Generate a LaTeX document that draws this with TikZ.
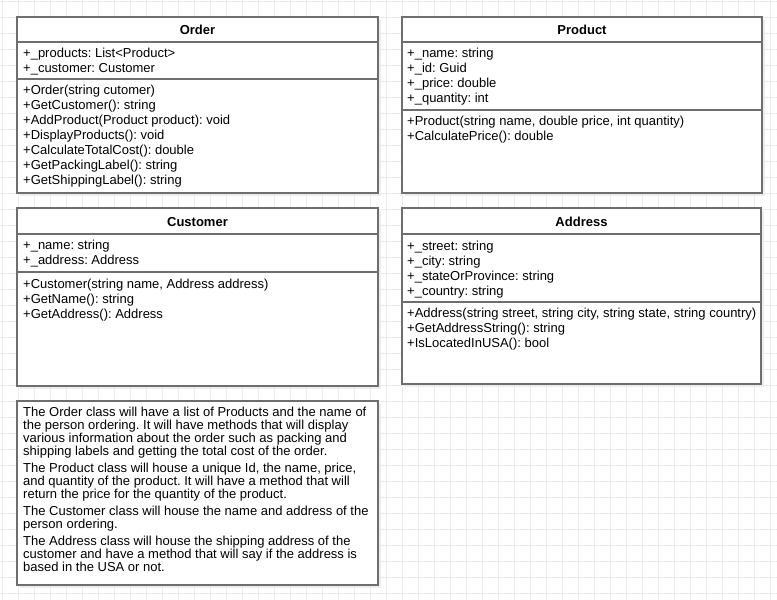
\documentclass[tikz,border=0pt]{standalone}
\usepackage{fontspec}
\setmainfont{Liberation Sans}
\usetikzlibrary{calc,shadows}
\definecolor{umlgray}{HTML}{6E6E6E}
\definecolor{gridgray}{HTML}{EAEAEA}
\frenchspacing

\begin{document}
\begin{tikzpicture}[x=1pt,y=-1pt,font=\fontsize{13}{15}\selectfont,
  gridline/.style={draw=gridgray,line width=1},
  classbox/.style={draw=umlgray,line width=2,fill=white,anchor=north west,
    inner sep=0pt,outer sep=0pt,minimum width=#1,
    drop shadow={shadow xshift=3pt,shadow yshift=-3pt,fill=black!7,opacity=1}},
  classbox/.default=361,
  classline/.style={draw=umlgray,line width=2},
  classtitle/.style={anchor=base,inner sep=0pt,font=\fontsize{13}{15}\selectfont\bfseries},
  member/.style={anchor=base west,inner sep=0pt}]
\fill[white] (0,0) rectangle (777,600);
\useasboundingbox (0,0) rectangle (777,600);
% grid
\foreach \gx in {0,...,48}
  \draw[gridline] (2+16*\gx,0) -- (2+16*\gx,600);
\foreach \gy in {0,...,37}
  \draw[gridline] (0,1+16*\gy) -- (777,1+16*\gy);

% Order
\node[classbox,minimum height=176] (order) at (17,17) {};
\node[classtitle] (order-title) at ($(order.north)+(0,17.5)$) {Order};
\draw[classline] ($(order.north west)+(0,25)$) -- ($(order.north east)+(0,25)$);
\draw[classline] ($(order.north west)+(0,62)$) -- ($(order.north east)+(0,62)$);
\foreach \m [count=\i from 0] in {+\_products: List<Product>, +\_customer: Customer}
  \node[member] (order-a\i) at ($(order.north west)+(6,40.5+15*\i)$) {\m};
\foreach \m [count=\i from 0] in {+Order(string cutomer), +GetCustomer(): string,
  +AddProduct(Product product): void, +DisplayProducts(): void,
  +CalculateTotalCost(): double, +GetPackingLabel(): string, +GetShippingLabel(): string}
  \node[member] (order-m\i) at ($(order.north west)+(6,77.5+15*\i)$) {\m};

% Product
\node[classbox=360,minimum height=176] (product) at (402,17) {};
\node[classtitle] (product-title) at ($(product.north)+(0,17.5)$) {Product};
\draw[classline] ($(product.north west)+(0,25)$) -- ($(product.north east)+(0,25)$);
\draw[classline] ($(product.north west)+(0,93)$) -- ($(product.north east)+(0,93)$);
\foreach \m [count=\i from 0] in {+\_name: string, +\_id: Guid, +\_price: double, +\_quantity: int}
  \node[member] (product-a\i) at ($(product.north west)+(5,40.5+15*\i)$) {\m};
\foreach \m [count=\i from 0] in {{+Product(string name, double price, int quantity)},
  +CalculatePrice(): double}
  \node[member] (product-m\i) at ($(product.north west)+(5,108.5+15*\i)$) {\m};

% Customer
\node[classbox,minimum height=178] (customer) at (17,208) {};
\node[classtitle] (customer-title) at ($(customer.north)+(0,18)$) {Customer};
\draw[classline] ($(customer.north west)+(0,26)$) -- ($(customer.north east)+(0,26)$);
\draw[classline] ($(customer.north west)+(0,64)$) -- ($(customer.north east)+(0,64)$);
\foreach \m [count=\i from 0] in {+\_name: string, +\_address: Address}
  \node[member] (customer-a\i) at ($(customer.north west)+(6,41+15*\i)$) {\m};
\foreach \m [count=\i from 0] in {{+Customer(string name, Address address)},
  +GetName(): string, +GetAddress(): Address}
  \node[member] (customer-m\i) at ($(customer.north west)+(6,80+15*\i)$) {\m};

% Address
\node[classbox=359,minimum height=176] (address) at (402,208) {};
\node[classtitle] (address-title) at ($(address.north)+(0,18)$) {Address};
\draw[classline] ($(address.north west)+(0,26)$) -- ($(address.north east)+(0,26)$);
\draw[classline] ($(address.north west)+(0,94)$) -- ($(address.north east)+(0,94)$);
\foreach \m [count=\i from 0] in {+\_street: string, +\_city: string,
  +\_stateOrProvince: string, +\_country: string}
  \node[member] (address-a\i) at ($(address.north west)+(5,42+15*\i)$) {\m};
\foreach \m [count=\i from 0] in {{+Address(string street, string city, string state, string country)},
  +GetAddressString(): string, +IsLocatedInUSA(): bool}
  \node[member] (address-m\i) at ($(address.north west)+(5,109+15*\i)$) {\m};

% notes
\node[classbox,minimum height=184] (notes) at (17,401) {};
\node[anchor=north west,inner sep=0pt,align=left,font=\fontsize{13}{13}\selectfont]
  (notes-text) at ($(notes.north west)+(6,6)$)
  {The Order class will have a list of Products and the name of\\
   the person ordering. It will have methods that will display\\
   various information about the order such as packing and\\
   shipping labels and getting the total cost of the order.\\[4pt]
   The Product class will house a unique Id, the name, price,\\
   and quantity of the product. It will have a method that will\\
   return the price for the quantity of the product.\\[4pt]
   The Customer class will house the name and address of the\\
   person ordering.\\[4pt]
   The Address class will house the shipping address of the\\
   customer and have a method that will say if the address is\\
   based in the USA or not.};
\end{tikzpicture}
\end{document}
